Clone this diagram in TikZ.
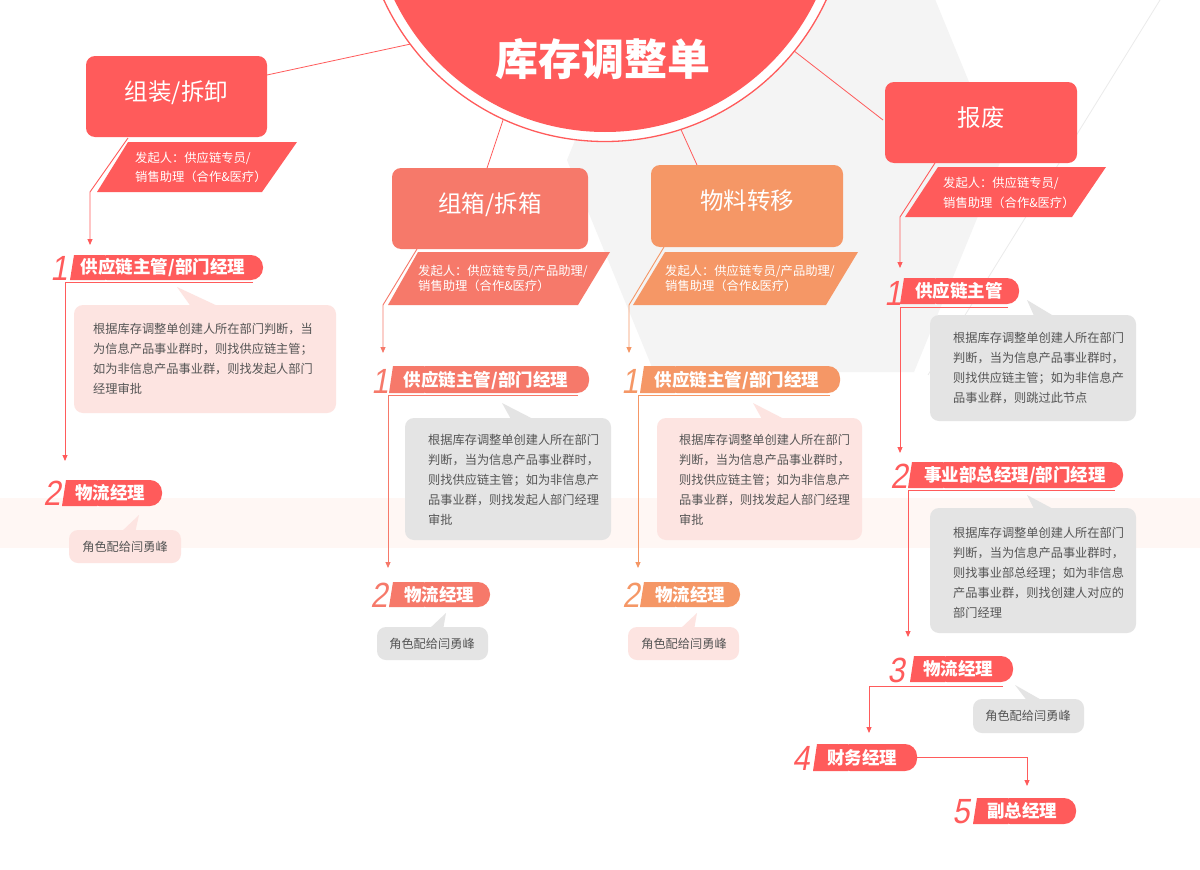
\documentclass[tikz,border=0pt]{standalone}
\usepackage{fontspec}
\setmainfont{Noto Sans CJK SC}
\newfontfamily\numfont[FakeSlant=0.18,FakeStretch=0.88]{Liberation Sans}
\usetikzlibrary{arrows.meta}
\definecolor{cred}{HTML}{FF5B5B}
\definecolor{csal}{HTML}{F6796A}
\definecolor{corg}{HTML}{F59766}
\definecolor{npink}{HTML}{FDE4E1}
\definecolor{ngray}{HTML}{E4E4E4}
\definecolor{ntext}{HTML}{555555}
\definecolor{hexg}{HTML}{F4F4F4}
\definecolor{bandc}{HTML}{FFF7F4}
\definecolor{faint}{HTML}{EBEBEB}
\tikzset{
 catbox/.style={rounded corners=9pt, text=white, font=\fontsize{23.5}{28}\selectfont, inner sep=0pt, text height=0.8em, text depth=0.08em},
 tabtext/.style={text=white, font=\bfseries\fontsize{17.5}{20}\selectfont, inner sep=0pt, anchor=base},
 numtext/.style={font=\numfont\fontsize{35}{40}\selectfont, inner sep=0pt, anchor=base},
 notetext/.style={text=ntext, font=\fontsize{12.2}{14}\selectfont, inner sep=0pt, anchor=base west},
 paratext/.style={text=white, font=\fontsize{12.3}{14}\selectfont, inner sep=0pt, anchor=base west},
 conn/.style={line width=0.9pt, -{Triangle[length=6pt,width=5pt]}},
 spoke/.style={cred, line width=0.8pt},
}
\newcommand\tabbg[5]{%
 \fill[#5, rounded corners=12pt] ({#1+25},#2) rectangle (#3,#4);
 \fill[#5] ({#1+4},#2) -- ({#1+35},#2) -- ({#1+35},#4) -- (#1,#4) -- cycle;}
\newcommand\bubble[9]{%
 \fill[#5, rounded corners=9pt] (#1,#2) rectangle (#3,#4);
 \fill[#5] (#6,#7) -- (#8,{#2+3}) -- (#9,{#2+3}) -- cycle;}
\begin{document}
\begin{tikzpicture}[x=1pt,y=-1pt]
\useasboundingbox (0,0) rectangle (1200,870);
\fill[white] (0,0) rectangle (1200,870);
% background
\fill[bandc] (0,498) rectangle (1200,548);
\fill[hexg] (654,372) -- (914,372) -- (1001,160) -- (914,-52) -- (654,-52) -- (567,160) -- cycle;
\coordinate (f0) at (1160,0); \coordinate (f1) at (928,375);
\draw[faint, line width=0.8pt] (f0) -- (f1);
% spokes
\coordinate (s1a) at (267,75); \coordinate (s1b) at (420,42);
\coordinate (s2a) at (487,168); \coordinate (s2b) at (505,114);
\coordinate (s3a) at (697,165); \coordinate (s3b) at (678,123);
\coordinate (s4a) at (883,120); \coordinate (s4b) at (789,47);
\draw[spoke] (s1a) -- (s1b);
\draw[spoke] (s2a) -- (s2b);
\draw[spoke] (s3a) -- (s3b);
\draw[spoke] (s4a) -- (s4b);
% central circle
\draw[cred, line width=1.3pt, fill=white] (605,-102) circle[radius=243.5pt];
\fill[cred] (605,-102) circle[radius=234pt];
\node[font=\bfseries\fontsize{43}{48}\selectfont, text=white, inner sep=0pt, anchor=base] (title) at (603,75) {库存调整单};
% category boxes
\node[catbox, fill=cred, minimum width=181pt, minimum height=81pt] (boxA) at (176.5,96.5) {组装/拆卸};
\node[catbox, fill=csal, minimum width=196pt, minimum height=81pt] (boxB) at (490,208.5) {组箱/拆箱};
\node[catbox, fill=corg, minimum width=192pt, minimum height=82pt] (boxC) at (747,206) {物料转移};
\node[catbox, fill=cred, minimum width=192pt, minimum height=81pt] (boxD) at (981,122.5) {报废};
% parallelograms
\fill[cred] (128,142) -- (297,142) -- (262,192) -- (97,192) -- cycle;
\node[paratext] (pa1) at (135,162.5) {发起人：供应链专员/};
\node[paratext] (pa2) at (135,181.5) {销售助理（合作\&医疗）};
\fill[csal] (418,252) -- (610,252) -- (578,305) -- (388,305) -- cycle;
\node[paratext] (pb1) at (418,275.5) {发起人：供应链专员/产品助理/};
\node[paratext] (pb2) at (418,290.5) {销售助理（合作\&医疗）};
\fill[corg] (665,252) -- (858,252) -- (826,305) -- (633,305) -- cycle;
\node[paratext] (pc1) at (665,275.5) {发起人：供应链专员/产品助理/};
\node[paratext] (pc2) at (665,290.5) {销售助理（合作\&医疗）};
\fill[cred] (938,167) -- (1106,167) -- (1072,217) -- (905,217) -- cycle;
\node[paratext] (pd1) at (943,187.5) {发起人：供应链专员/};
\node[paratext] (pd2) at (943,207.5) {销售助理（合作\&医疗）};
% ---------- column A ----------
\coordinate (a0) at (128,138); \coordinate (a1) at (90,192); \coordinate (a2) at (90,245);
\draw[conn, cred] (a0) -- (a1) -- (a2);
\tabbg{70}{255}{263}{280}{cred}
\node[numtext, text=cred] (a1n) at (59,280) {1};
\node[tabtext] (a1t) at (163,273.5) {供应链主管/部门经理};
\coordinate (a1u) at (253,282); \coordinate (a1c) at (65,282); \coordinate (a1e) at (65,461);
\draw[conn, cred] (a1u) -- (a1c) -- (a1e);
\bubble{74}{305}{336}{413}{npink}{177}{287}{192}{222}
\foreach \t [count=\i] in {根据库存调整单创建人所在部门判断，当,为信息产品事业群时，则找供应链主管；,如为非信息产品事业群，则找发起人部门,经理审批}{
 \node[notetext] (na-\i) at (93,{333.5+20*(\i-1)}) {\t};}
\tabbg{62}{480}{162}{506}{cred}
\node[numtext, text=cred] (a2n) at (52,505) {2};
\node[tabtext] (a2t) at (110,499.5) {物流经理};
\bubble{69}{530}{181}{563}{npink}{139}{515}{120}{135}
\node[notetext, anchor=base] (na-s) at (125,551.5) {角色配给闫勇峰};
% ---------- column B ----------
\coordinate (b0) at (417,249); \coordinate (b1) at (383,305); \coordinate (b2) at (383,353);
\draw[conn, csal] (b0) -- (b1) -- (b2);
\tabbg{389}{366}{589}{393}{csal}
\node[numtext, text=csal] (b1n) at (380,393) {1};
\node[tabtext] (b1t) at (486,386) {供应链主管/部门经理};
\coordinate (b1u) at (578,395); \coordinate (b1c) at (388,395); \coordinate (b1e) at (388,568);
\draw[conn, csal] (b1u) -- (b1c) -- (b1e);
\bubble{405}{418}{611}{540}{ngray}{502}{403}{512}{537}
\foreach \t [count=\i] in {根据库存调整单创建人所在部门,判断，当为信息产品事业群时，,则找供应链主管；如为非信息产,品事业群，则找发起人部门经理,审批}{
 \node[notetext] (nb-\i) at (428,{444.5+20*(\i-1)}) {\t};}
\tabbg{389}{582}{490}{607}{csal}
\node[numtext, text=csal] (b2n) at (379,607) {2};
\node[tabtext] (b2t) at (439,601) {物流经理};
\bubble{377}{627}{488}{660}{ngray}{446}{613}{428}{443}
\node[notetext, anchor=base] (nb-s) at (432,648.5) {角色配给闫勇峰};
% ---------- column C ----------
\coordinate (c0) at (664,247); \coordinate (c1) at (629,305); \coordinate (c2) at (629,353);
\draw[conn, corg] (c0) -- (c1) -- (c2);
\tabbg{640}{366}{840}{393}{corg}
\node[numtext, text=corg] (c1n) at (630,393) {1};
\node[tabtext] (c1t) at (737,386) {供应链主管/部门经理};
\coordinate (c1u) at (830,395); \coordinate (c1c) at (638,395); \coordinate (c1e) at (638,568);
\draw[conn, corg] (c1u) -- (c1c) -- (c1e);
\bubble{657}{418}{862}{540}{npink}{753}{403}{763}{788}
\foreach \t [count=\i] in {根据库存调整单创建人所在部门,判断，当为信息产品事业群时，,则找供应链主管；如为非信息产,品事业群，则找发起人部门经理,审批}{
 \node[notetext] (nc-\i) at (679,{444.5+20*(\i-1)}) {\t};}
\tabbg{640}{582}{740}{607}{corg}
\node[numtext, text=corg] (c2n) at (631,607) {2};
\node[tabtext] (c2t) at (690,601) {物流经理};
\bubble{628}{627}{739}{660}{npink}{697}{613}{679}{694}
\node[notetext, anchor=base] (nc-s) at (684,648.5) {角色配给闫勇峰};
% ---------- column D ----------
\coordinate (d0) at (935,163); \coordinate (d1) at (900,217); \coordinate (d2) at (900,268);
\draw[conn, cred] (d0) -- (d1) -- (d2);
\tabbg{900}{278}{1019}{304}{cred}
\node[numtext, text=cred] (d1n) at (893,305) {1};
\node[tabtext] (d1t) at (959,297.5) {供应链主管};
\coordinate (d1u) at (1008,307); \coordinate (d1c) at (900,307); \coordinate (d1e) at (900,453);
\draw[conn, cred] (d1u) -- (d1c) -- (d1e);
\bubble{930}{315}{1136}{421}{ngray}{1027}{300}{1035}{1057}
\foreach \t [count=\i] in {根据库存调整单创建人所在部门,判断，当为信息产品事业群时，,则找供应链主管；如为非信息产,品事业群，则跳过此节点}{
 \node[notetext] (nd-\i) at (953,{342.5+20*(\i-1)}) {\t};}
\tabbg{908}{462}{1123}{488}{cred}
\node[numtext, text=cred] (d2n) at (899,488) {2};
\node[tabtext] (d2t) at (1015,481.5) {事业部总经理/部门经理};
\coordinate (d2u) at (1115,490); \coordinate (d2c) at (908,490); \coordinate (d2e) at (908,637);
\draw[conn, cred] (d2u) -- (d2c) -- (d2e);
\bubble{930}{508}{1136}{633}{ngray}{1027}{495}{1035}{1057}
\foreach \t [count=\i] in {根据库存调整单创建人所在部门,判断，当为信息产品事业群时，,则找事业部总经理；如为非信息,产品事业群，则找创建人对应的,部门经理}{
 \node[notetext] (ne-\i) at (953,{537.5+20*(\i-1)}) {\t};}
\tabbg{910}{656}{1013}{682}{cred}
\node[numtext, text=cred] (d3n) at (896,682) {3};
\node[tabtext] (d3t) at (958,675.5) {物流经理};
\coordinate (d3u) at (1003,686); \coordinate (d3c) at (869,686); \coordinate (d3e) at (869,733);
\draw[conn, cred] (d3u) -- (d3c) -- (d3e);
\bubble{973}{699}{1084}{733}{ngray}{1015}{685}{1028}{1045}
\node[notetext, anchor=base] (nd-s) at (1028,720.5) {角色配给闫勇峰};
\tabbg{813}{744}{917}{771}{cred}
\node[numtext, text=cred] (d4n) at (801,770) {4};
\node[tabtext] (d4t) at (862,764) {财务经理};
\coordinate (d4u) at (912,757); \coordinate (d4c) at (1027,757); \coordinate (d4e) at (1027,786);
\draw[conn, cred] (d4u) -- (d4c) -- (d4e);
\tabbg{973}{798}{1076}{824}{cred}
\node[numtext, text=cred] (d5n) at (961,823) {5};
\node[tabtext] (d5t) at (1022,817.5) {副总经理};
\end{tikzpicture}
\end{document}
